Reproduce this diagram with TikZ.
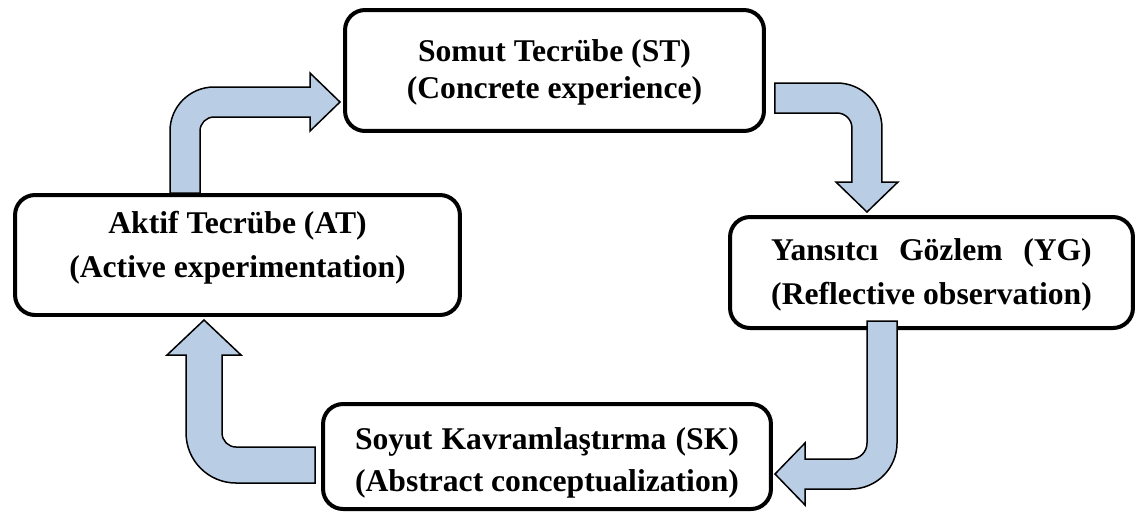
\documentclass[tikz,border=0pt]{standalone}
\usepackage{fontspec}
\setmainfont{Liberation Serif}
\usetikzlibrary{calc}

\definecolor{arrowblue}{HTML}{B9CDE5}

\newlength{\fullw}
\newcommand{\spreadline}[2]{\settowidth{\fullw}{#2}\makebox[\fullw][s]{#1}\\#2}

\tikzset{
  box/.style={draw, line width=0.08cm, rounded corners=0.4cm, fill=white,
    align=center, inner sep=0pt, font=\fontsize{18}{25}\selectfont\bfseries},
  bentarrow/.style={draw, fill=arrowblue, line width=0.03cm}
}

\begin{document}
\begin{tikzpicture}[x=0.02cm, y=-0.02cm]
\useasboundingbox (0,0) rectangle (1142,515);

% Boxes
\node[box, minimum width=8.38cm, minimum height=2.42cm, font=\fontsize{18}{21}\selectfont\bfseries,
  text height=36.1pt] (st) at (554.5,70.5)
  {Somut Tecrübe (ST)\\(Concrete experience)};
\node[box, minimum width=8.9cm, minimum height=2.4cm, text depth=12.3pt] (at) at (237.5,255)
  {Aktif Tecrübe (AT)\\(Active experimentation)};
\node[box, minimum width=8.06cm, minimum height=2.22cm, text height=40.2pt] (yg) at (931.5,272.5)
  {\spreadline{Yansıtcı Gözlem (YG)}{(Reflective observation)}};
\node[box, minimum width=8.96cm, minimum height=2.1cm, font=\fontsize{18}{24}\selectfont\bfseries,
  text height=43.7pt] (sk) at (547,456.5)
  {\spreadline{Soyut Kavramlaştırma (SK)}{(Abstract conceptualization)}};

% Arrow ends
\coordinate (s1) at ($(at.north)+(-52.5,0)$);
\coordinate (s2) at ($(st.east)+(9,27.5)$);
\coordinate (s3) at ($(yg.south)+(-49.5,-9)$);
\coordinate (s4) at ($(sk.west)+(-6,8.5)$);

% AT -> ST
\draw[bentarrow] (s1) ++(-15,0) -- ++(0,-62) arc[start angle=180, end angle=270, radius=44]
  -- ++(96,0) -- ++(0,-14) -- ++(30,29) -- ++(-30,29) -- ++(0,-14) -- ++(-96,0)
  arc[start angle=270, end angle=180, radius=14] -- ++(0,62) -- cycle;

% ST -> YG
\draw[bentarrow] (s2) ++(0,-15) -- ++(62,0) arc[start angle=270, end angle=360, radius=45]
  -- ++(0,54) -- ++(16,0) -- ++(-31,30) -- ++(-31,-30) -- ++(16,0) -- ++(0,-54)
  arc[start angle=0, end angle=-90, radius=15] -- ++(-62,0) -- cycle;

% YG -> SK
\draw[bentarrow] (s3) ++(-15,0) -- ++(30,0) -- ++(0,122) arc[start angle=0, end angle=90, radius=46]
  -- ++(-46,0) -- ++(0,16) -- ++(-30,-31) -- ++(30,-31) -- ++(0,16) -- ++(46,0)
  arc[start angle=90, end angle=0, radius=16] -- cycle;

% SK -> AT
\draw[bentarrow] (s4) ++(0,-18) -- ++(-79,0) arc[start angle=90, end angle=180, radius=14]
  -- ++(0,-78) -- ++(19,0) -- ++(-37,-35) -- ++(-37,35) -- ++(19,0) -- ++(0,78)
  arc[start angle=180, end angle=90, radius=50] -- ++(79,0) -- cycle;

\end{tikzpicture}
\end{document}
